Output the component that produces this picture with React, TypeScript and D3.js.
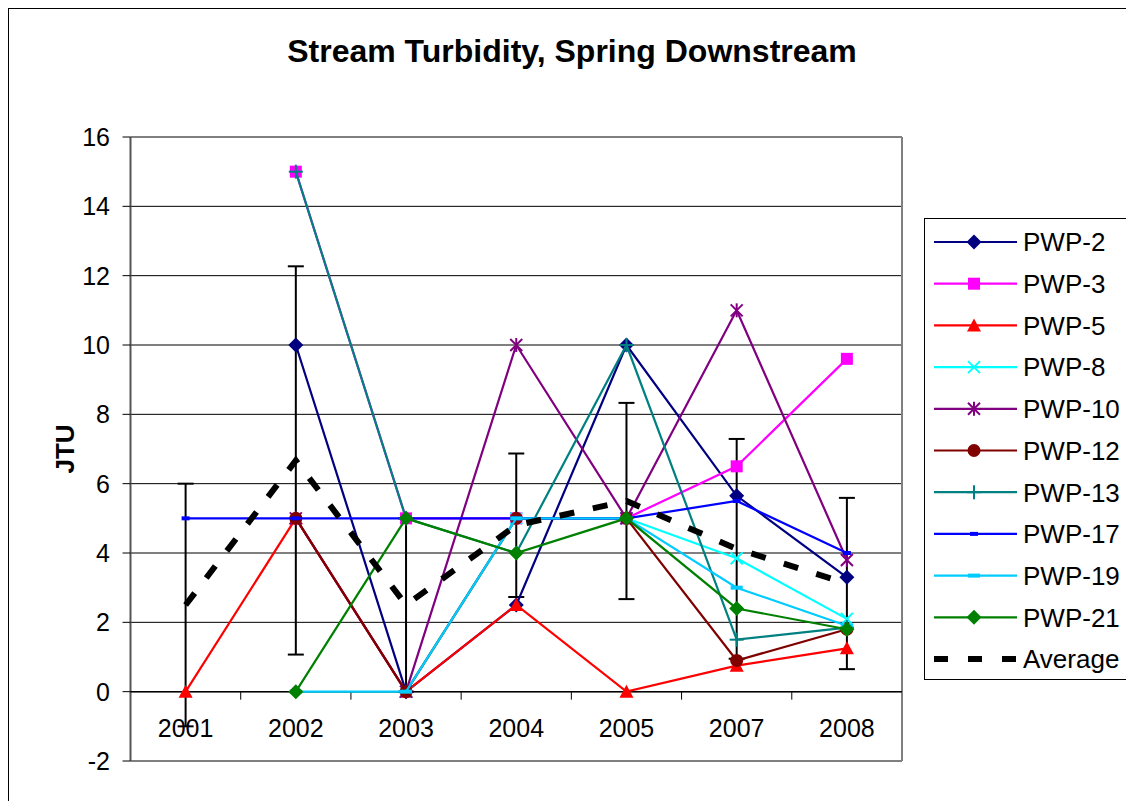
import React from 'react';
import * as d3 from 'd3';

const years = ['2001', '2002', '2003', '2004', '2005', '2007', '2008'];
const pwp2 = [null, 10, 0, 2.5, 10, 5.65, 3.3];
const pwp3 = [null, 15, 5, 5, 5, 6.5, 9.6];
const pwp5 = [0, 5, 0, 2.5, 0, 0.75, 1.25];
const pwp8 = [null, null, 0, 5, 5, 3.85, 2.1];
const pwp10 = [null, 5, 0, 10, 5, 11, 3.8];
const pwp12 = [null, 5, 0, 5, 5, 0.9, 1.8];
const pwp13 = [null, 15, 5, 4, 10, 1.5, 1.85];
const pwp17 = [5, 5, 5, 5, 5, 5.5, 4.0];
const pwp19 = [null, 0, 0, 5, 5, 3.0, 1.9];
const pwp21 = [null, 0, 5, 4, 5, 2.4, 1.8];
const average = [2.5, 6.67, 2.5, 4.8, 5.5, 4.12, 3.12];
const errorSize = [3.5, 5.6, 2.5, 2.07, 2.83, 3.17, 2.47];
const yTicks = [-2, 0, 2, 4, 6, 8, 10, 12, 14, 16];

const seriesNames = ['PWP-2', 'PWP-3', 'PWP-5', 'PWP-8', 'PWP-10', 'PWP-12', 'PWP-13', 'PWP-17', 'PWP-19', 'PWP-21'];
const seriesValues = [pwp2, pwp3, pwp5, pwp8, pwp10, pwp12, pwp13, pwp17, pwp19, pwp21];
const seriesColors = ['#000080', '#FF00FF', '#FF0000', '#00FFFF', '#800080', '#800000', '#008080', '#0000FF', '#00CCFF', '#008000'];
const seriesMarkers = ['diamond', 'square', 'triangle', 'x', 'star', 'circle', 'plus', 'dash', 'dashWide', 'diamond'];

const FONT = '"Liberation Sans", Arial, sans-serif';

function Marker({ type, x, y, color }: { type: string; x: number; y: number; color: string }) {
  switch (type) {
    case 'diamond':
      return <polygon points={`${x},${y - 7.5} ${x + 7.5},${y} ${x},${y + 7.5} ${x - 7.5},${y}`} fill={color} />;
    case 'square':
      return <rect x={x - 6} y={y - 6} width={12} height={12} fill={color} />;
    case 'triangle':
      return <polygon points={`${x},${y - 7} ${x + 7},${y + 6} ${x - 7},${y + 6}`} fill={color} />;
    case 'x':
      return (
        <g stroke={color} strokeWidth={2}>
          <line x1={x - 6} y1={y - 6} x2={x + 6} y2={y + 6} />
          <line x1={x - 6} y1={y + 6} x2={x + 6} y2={y - 6} />
        </g>
      );
    case 'star':
      return (
        <g stroke={color} strokeWidth={2}>
          <line x1={x - 6} y1={y - 6} x2={x + 6} y2={y + 6} />
          <line x1={x - 6} y1={y + 6} x2={x + 6} y2={y - 6} />
          <line x1={x} y1={y - 7} x2={x} y2={y + 7} />
        </g>
      );
    case 'circle':
      return <circle cx={x} cy={y} r={6.5} fill={color} />;
    case 'plus':
      return (
        <g stroke={color} strokeWidth={2}>
          <line x1={x - 7} y1={y} x2={x + 7} y2={y} />
          <line x1={x} y1={y - 7} x2={x} y2={y + 7} />
        </g>
      );
    case 'dash':
      return <rect x={x - 4} y={y - 2} width={8} height={4} fill={color} />;
    case 'dashWide':
      return <rect x={x - 6} y={y - 2} width={12} height={4} fill={color} />;
    default:
      return null;
  }
}

export default function App() {
  const W = 1126;
  const H = 801;
  const left = 130.5;
  const right = 902;
  const top = 137;
  const bottom = 761;

  const x = d3.scaleBand<string>().domain(years).range([left, right]).padding(0);
  const cx = (i: number) => (x(years[i]) as number) + x.bandwidth() / 2;
  const y = d3.scaleLinear().domain([-2, 16]).range([bottom, top]);

  const line = d3
    .line<number | null>()
    .defined((d) => d != null)
    .x((_, i) => cx(i))
    .y((d) => y(d as number));

  const legendTop = 218;
  const legendRow = 41.7;
  const legendFirst = 242;

  return (
    <svg width={W} height={H} style={{ position: 'absolute', left: 0, top: 0 }} fontFamily={FONT}>
      <rect x={0} y={0} width={W} height={H} fill="#fff" />
      <rect x={8.5} y={8.5} width={1140} height={820} fill="none" stroke="#000" strokeWidth={1} />

      <text x={572} y={62} textAnchor="middle" fontSize={32} fontWeight="bold">
        Stream Turbidity, Spring Downstream
      </text>

      {/* gridlines */}
      {yTicks.map((t) => (
        <line
          key={t}
          x1={left}
          x2={right}
          y1={y(t)}
          y2={y(t)}
          stroke={t === 16 || t === -2 ? '#808080' : '#000'}
          strokeWidth={t === 16 || t === -2 ? 2 : 1}
        />
      ))}
      <line x1={right} x2={right} y1={top} y2={bottom} stroke="#808080" strokeWidth={2} />

      {/* y axis */}
      <line x1={left} x2={left} y1={top} y2={bottom} stroke="#555" strokeWidth={2} />
      {yTicks.map((t) => (
        <g key={'yt' + t}>
          <line x1={left - 8} x2={left} y1={y(t)} y2={y(t)} stroke="#000" strokeWidth={1} />
          <text x={110} y={y(t)} dy="0.36em" textAnchor="end" fontSize={25}>
            {t}
          </text>
        </g>
      ))}
      <text
        transform={`translate(${74},${y(7)}) rotate(-90)`}
        textAnchor="middle"
        fontSize={26}
        fontWeight="bold"
      >
        JTU
      </text>

      {/* x axis at 0 */}
      <line x1={left} x2={right} y1={y(0)} y2={y(0)} stroke="#000" strokeWidth={1.5} />
      {years.map((yr, i) =>
        i > 0 ? (
          <line key={'xt' + yr} x1={x(yr)} x2={x(yr)} y1={y(0)} y2={y(0) + 8} stroke="#000" strokeWidth={1} />
        ) : null
      )}
      {years.map((yr, i) => (
        <text key={'xl' + yr} x={cx(i)} y={737} textAnchor="middle" fontSize={25}>
          {yr}
        </text>
      ))}

      {/* error bars */}
      {average.map((a, i) => {
        const hi = y(a + errorSize[i]);
        const lo = y(a - errorSize[i]);
        const c = cx(i);
        return (
          <g key={'eb' + i} stroke="#000" strokeWidth={2}>
            <line x1={c} x2={c} y1={hi} y2={lo} />
            <line x1={c - 8} x2={c + 8} y1={hi} y2={hi} />
            <line x1={c - 8} x2={c + 8} y1={lo} y2={lo} />
          </g>
        );
      })}

      {/* series */}
      {seriesValues.map((vals, s) => (
        <g key={'s' + s}>
          <path d={line(vals) || ''} fill="none" stroke={seriesColors[s]} strokeWidth={2.2} />
          {vals.map((v, i) =>
            v == null ? null : (
              <Marker key={i} type={seriesMarkers[s]} x={cx(i)} y={y(v)} color={seriesColors[s]} />
            )
          )}
        </g>
      ))}

      {/* average */}
      <path
        d={line(average) || ''}
        fill="none"
        stroke="#000"
        strokeWidth={6}
        strokeDasharray="15,19"
      />

      {/* legend */}
      <rect x={924.5} y={legendTop + 0.5} width={220} height={461} fill="#fff" stroke="#000" strokeWidth={1} />
      {seriesNames.map((name, s) => {
        const ly = legendFirst + s * legendRow;
        return (
          <g key={'lg' + s}>
            <line x1={934} x2={1017} y1={ly} y2={ly} stroke={seriesColors[s]} strokeWidth={2.2} />
            <Marker type={seriesMarkers[s]} x={974} y={ly} color={seriesColors[s]} />
            <text x={1023} y={ly} dy="0.36em" fontSize={26}>
              {name}
            </text>
          </g>
        );
      })}
      {(() => {
        const ly = legendFirst + 10 * legendRow;
        return (
          <g>
            <line x1={934} x2={1017} y1={ly} y2={ly} stroke="#000" strokeWidth={6} strokeDasharray="14,20" />
            <text x={1023} y={ly} dy="0.36em" fontSize={26}>
              Average
            </text>
          </g>
        );
      })()}
    </svg>
  );
}
